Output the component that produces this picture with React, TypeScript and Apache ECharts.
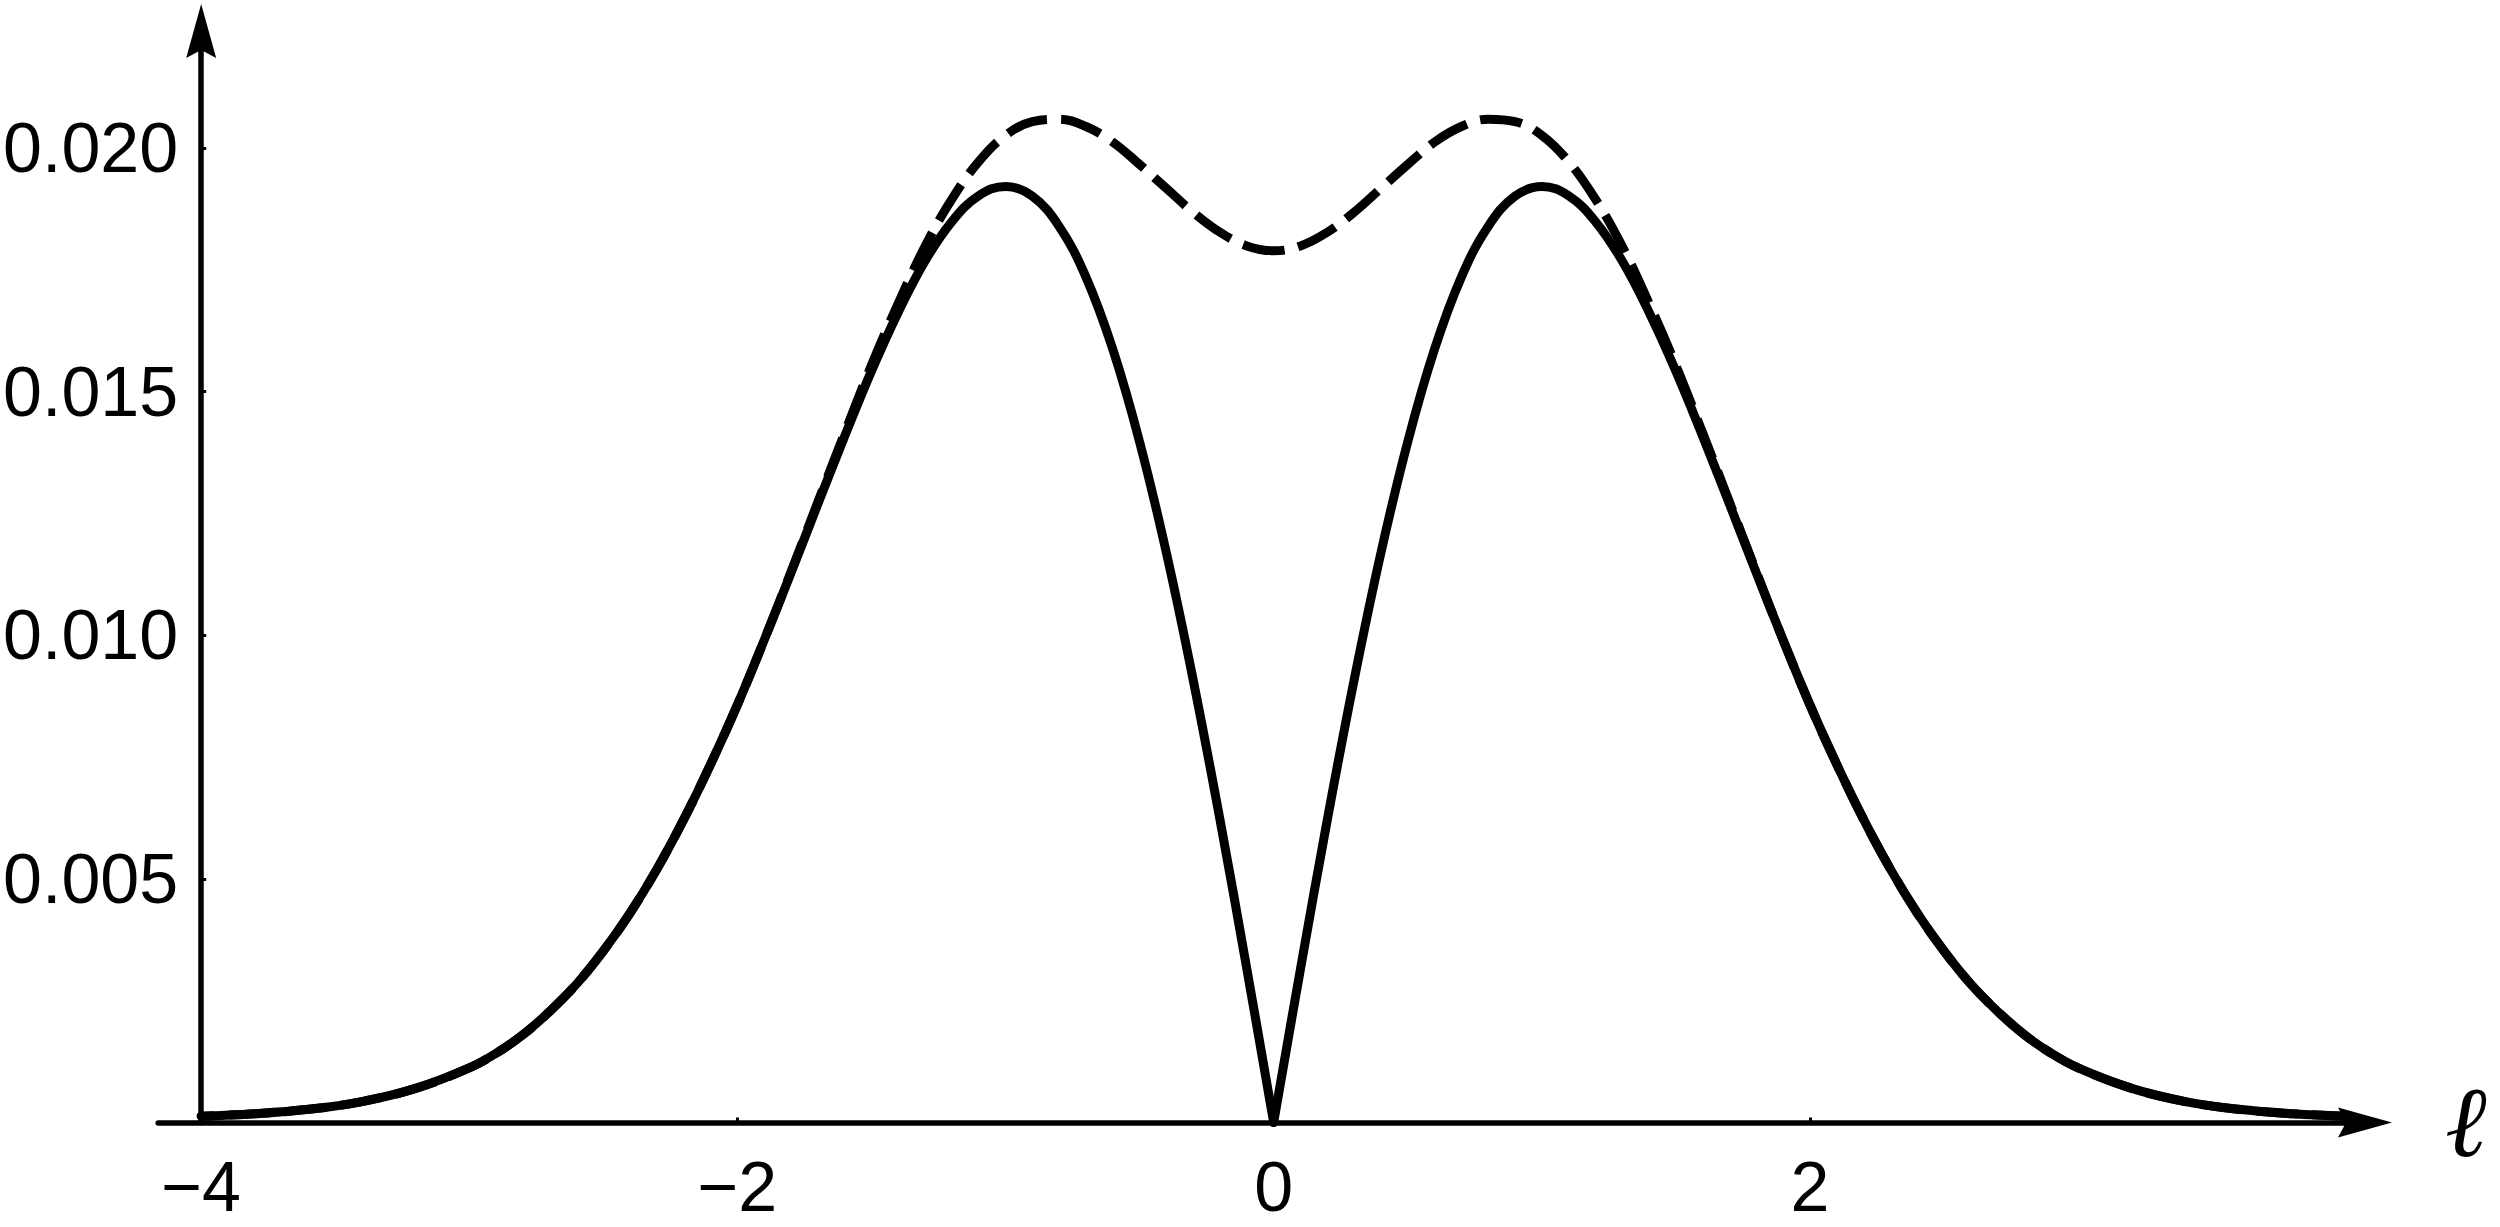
import React, { useEffect, useRef } from 'react';
import * as echarts from 'echarts';

// ℓ sample positions
const ELL = [
  -4, -3.8, -3.6, -3.4, -3.2, -3.0, -2.9, -2.8, -2.7, -2.6, -2.5, -2.4, -2.3, -2.2, -2.1,
  -2.0, -1.9, -1.8, -1.7, -1.6, -1.5, -1.4, -1.3, -1.2, -1.1, -1.0, -0.9, -0.8, -0.7,
  -0.6, -0.5, -0.4, -0.3, -0.2, -0.1, 0,
  0.1, 0.2, 0.3, 0.4, 0.5, 0.6, 0.7, 0.8, 0.9, 1.0, 1.1, 1.2, 1.3, 1.4, 1.5, 1.6, 1.7,
  1.8, 1.9, 2.0, 2.1, 2.2, 2.3, 2.4, 2.5, 2.6, 2.7, 2.8, 2.9, 3.0, 3.2, 3.4, 3.6, 3.8, 4,
];

// solid curve
const SOLID = [
  0.00013, 0.00018, 0.00027, 0.00043, 0.0007, 0.00112, 0.00142, 0.0018, 0.00228, 0.00284,
  0.00352, 0.0043, 0.0052, 0.00622, 0.00735, 0.00857, 0.0099, 0.01128, 0.01269, 0.01408,
  0.01542, 0.01663, 0.01768, 0.01849, 0.01902, 0.01921, 0.01901, 0.01839, 0.01735, 0.01587,
  0.01397, 0.01169, 0.00908, 0.00621, 0.00315, 0,
  0.00315, 0.00621, 0.00908, 0.01169, 0.01397, 0.01587, 0.01735, 0.01839, 0.01901, 0.01921,
  0.01902, 0.01849, 0.01768, 0.01663, 0.01542, 0.01408, 0.01269, 0.01128, 0.0099, 0.00857,
  0.00735, 0.00622, 0.0052, 0.0043, 0.00352, 0.00284, 0.00228, 0.0018, 0.00142, 0.00112,
  0.0007, 0.00043, 0.00027, 0.00018, 0.00013,
];

// dashed curve
const DASHED = [
  0.00013, 0.00018, 0.00027, 0.00043, 0.0007, 0.00112, 0.00142, 0.0018, 0.00228, 0.00284,
  0.00352, 0.0043, 0.0052, 0.00622, 0.00735, 0.00857, 0.0099, 0.0113, 0.01273, 0.01415,
  0.01554, 0.01681, 0.01798, 0.01895, 0.01972, 0.02026, 0.02054, 0.02059, 0.02044, 0.02012,
  0.01966, 0.01917, 0.01868, 0.01827, 0.01799, 0.01789,
  0.01799, 0.01827, 0.01868, 0.01917, 0.01966, 0.02012, 0.02044, 0.02059, 0.02054, 0.02026,
  0.01972, 0.01895, 0.01798, 0.01681, 0.01554, 0.01415, 0.01273, 0.0113, 0.0099, 0.00857,
  0.00735, 0.00622, 0.0052, 0.0043, 0.00352, 0.00284, 0.00228, 0.0018, 0.00142, 0.00112,
  0.0007, 0.00043, 0.00027, 0.00018, 0.00013,
];

const X_TICKS = [-4, -2, 0, 2];
const Y_TICKS = [0.005, 0.01, 0.015, 0.02];

const X_MIN = -4.16;
const X_MAX = 4.07;
const Y_MIN = 0;
const Y_MAX = 0.0224;

export default function App() {
  const ref = useRef<HTMLDivElement>(null);

  useEffect(() => {
    if (!ref.current) return;
    const chart = echarts.init(ref.current, null, { renderer: 'svg' });

    const pts = (arr: number[]) => ELL.map((x, i) => [x, arr[i]]);
    const solidLeft = pts(SOLID).filter((p) => p[0] <= 0);
    const solidRight = pts(SOLID).filter((p) => p[0] >= 0);
    const dashed = pts(DASHED);

    const arrow = 'path://M15,0L30,54L15,46L0,54Z';
    const labelFont = "'Liberation Sans', Arial, Helvetica, sans-serif";

    const solidStyle = { color: '#000', width: 9, cap: 'round' as const, join: 'round' as const };

    chart.setOption({
      animation: false,
      backgroundColor: '#ffffff',
      grid: { left: 153, right: 135, top: 31, bottom: 104.5, containLabel: false },
      xAxis: {
        type: 'value',
        min: X_MIN,
        max: X_MAX,
        name: 'ℓ',
        nameLocation: 'end',
        nameGap: 80,
        nameTextStyle: {
          fontFamily: "'Liberation Serif', 'DejaVu Serif', serif",
          fontStyle: 'italic',
          fontSize: 100,
          color: '#000',
        },
        axisLine: {
          onZero: false,
          lineStyle: { color: '#000', width: 5.5 },
          symbol: ['none', arrow],
          symbolSize: [30, 54],
        },
        axisTick: {
          show: true,
          inside: true,
          length: 5,
          customValues: X_TICKS,
          lineStyle: { color: '#000', width: 3 },
        },
        axisLabel: {
          customValues: X_TICKS,
          formatter: (v: number) => String(v).replace('-', '\u2212'),
          fontSize: 70,
          fontFamily: labelFont,
          color: '#000',
          margin: 29,
        },
        splitLine: { show: false },
      },
      yAxis: {
        type: 'value',
        min: Y_MIN,
        max: Y_MAX,
        offset: -43,
        axisLine: {
          show: true,
          onZero: false,
          lineStyle: { color: '#000', width: 5.5 },
          symbol: ['none', arrow],
          symbolSize: [30, 54],
        },
        axisTick: {
          show: true,
          inside: true,
          length: 5,
          customValues: Y_TICKS,
          lineStyle: { color: '#000', width: 3 },
        },
        axisLabel: {
          customValues: Y_TICKS,
          formatter: (v: number) => v.toFixed(3),
          fontSize: 70,
          fontFamily: labelFont,
          color: '#000',
          margin: 23,
        },
        splitLine: { show: false },
      },
      series: [
        {
          type: 'line',
          data: solidLeft,
          showSymbol: false,
          smooth: 0.4,
          lineStyle: solidStyle,
          z: 2,
        },
        {
          type: 'line',
          data: solidRight,
          showSymbol: false,
          smooth: 0.4,
          lineStyle: solidStyle,
          z: 2,
        },
        {
          type: 'line',
          data: dashed,
          showSymbol: false,
          smooth: 0.4,
          lineStyle: { color: '#000', width: 9, type: [42, 14], dashOffset: 28, cap: 'butt' },
          z: 3,
        },
      ],
    });

    return () => {
      chart.dispose();
    };
  }, []);

  return (
    <div
      ref={ref}
      style={{ position: 'fixed', left: 0, top: 0, width: 2500, height: 1227, background: '#fff' }}
    />
  );
}
